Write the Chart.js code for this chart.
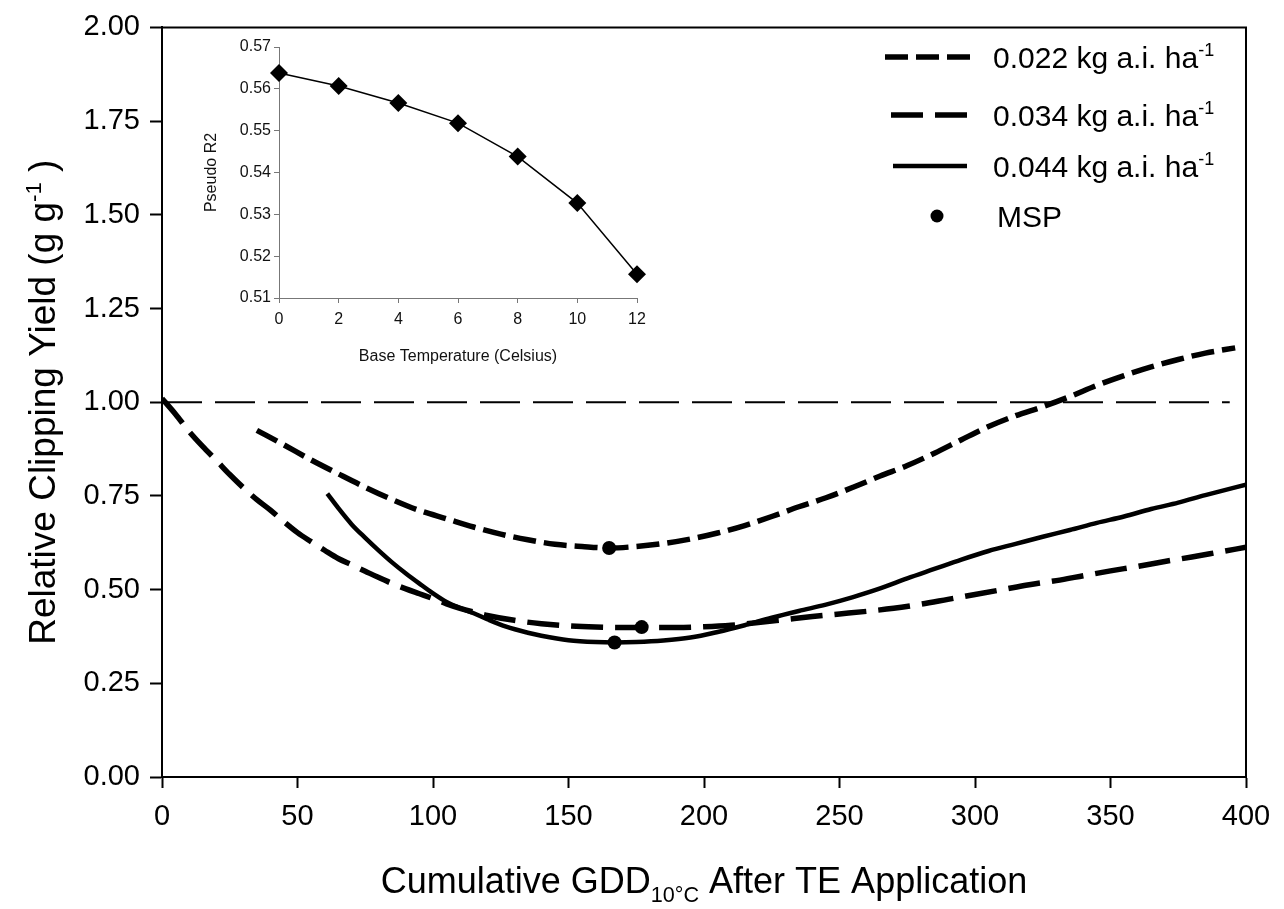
<!DOCTYPE html>
<html>
<head>
<meta charset="utf-8">
<title>Relative clipping yield vs cumulative GDD</title>
<script src="https://cdn.jsdelivr.net/npm/chart.js@4.4.1/dist/chart.umd.min.js"></script>
<style>
  html, body { margin: 0; padding: 0; background: #fff; }
  #wrap { position: relative; width: 1284px; height: 909px; }
  #main { position: absolute; left: 0; top: 0; }
  #inset { position: absolute; left: 190px; top: 30px; }
</style>
</head>
<body>
<div id="wrap">
  <canvas id="main" width="1284" height="909"></canvas>
  <canvas id="inset" width="470" height="340"></canvas>
</div>
<script>
// --- main panel: relative clipping yield after TE application ---
const gdd022 = [35, 45, 55, 65, 75, 85, 95, 105, 115, 125, 135, 145, 155, 165, 175, 185, 195, 205, 215, 225,
                235, 245, 255, 265, 275, 285, 295, 305, 315, 325, 335, 345, 355, 365, 375, 385, 396];
const yield022 = [0.925, 0.886, 0.846, 0.809, 0.773, 0.740, 0.711, 0.689, 0.667, 0.648, 0.633, 0.621, 0.615,
                  0.611, 0.615, 0.623, 0.635, 0.651, 0.671, 0.695, 0.721, 0.745, 0.773, 0.803, 0.831, 0.864,
                  0.900, 0.935, 0.964, 0.988, 1.015, 1.045, 1.071, 1.094, 1.114, 1.131, 1.145];

const gdd034 = [0, 5, 10, 15, 20, 25, 30, 35, 40, 45, 50, 55, 60, 65, 70, 75, 80, 85, 90, 95, 100, 105, 110,
                115, 120, 130, 140, 150, 160, 170, 180, 190, 200, 210, 220, 230, 240, 250, 260, 270, 280, 290,
                300, 310, 320, 330, 340, 350, 360, 370, 380, 390, 400];
const yield034 = [1.010, 0.968, 0.922, 0.882, 0.845, 0.807, 0.772, 0.740, 0.712, 0.681, 0.652, 0.628, 0.605,
                  0.583, 0.566, 0.549, 0.532, 0.516, 0.502, 0.489, 0.476, 0.462, 0.450, 0.440, 0.431, 0.418,
                  0.409, 0.403, 0.400, 0.399, 0.399, 0.399, 0.401, 0.405, 0.412, 0.420, 0.428, 0.435, 0.442,
                  0.450, 0.461, 0.474, 0.487, 0.500, 0.513, 0.524, 0.537, 0.550, 0.562, 0.575, 0.587, 0.600, 0.613];

const gdd044 = [61, 65, 70, 75, 80, 85, 90, 95, 100, 105, 110, 115, 120, 127, 135, 140, 150, 160, 167, 175,
                185, 195, 205, 215, 225, 235, 245, 255, 265, 275, 285, 295, 305, 315, 325, 335, 345, 355, 365,
                375, 385, 400];
const yield044 = [0.756, 0.718, 0.674, 0.638, 0.604, 0.572, 0.543, 0.516, 0.490, 0.467, 0.451, 0.437, 0.421,
                  0.401, 0.385, 0.377, 0.365, 0.360, 0.359, 0.360, 0.364, 0.372, 0.387, 0.405, 0.425, 0.443,
                  0.460, 0.480, 0.503, 0.530, 0.555, 0.580, 0.603, 0.622, 0.641, 0.659, 0.678, 0.695, 0.715,
                  0.732, 0.752, 0.780];

// minimum suppression points (0.022, 0.034, 0.044)
const mspGdd = [165, 177, 167];
const mspYield = [0.611, 0.400, 0.359];

// untreated reference at 1.0
const refGdd = [0, 394];
const refYield = [1, 1];

const doseLabels = ['0.022', '0.034', '0.044'];
const gddTicks = [0, 50, 100, 150, 200, 250, 300, 350, 400];
const yieldTicks = [0, 0.25, 0.5, 0.75, 1, 1.25, 1.5, 1.75, 2];

// --- inset: model fit vs base temperature ---
const baseTemp = [0, 2, 4, 6, 8, 10, 12];
const pseudoR2 = [0.5638, 0.5607, 0.5566, 0.5518, 0.5438, 0.5327, 0.5157];
const tempTicks = [0, 2, 4, 6, 8, 10, 12];
const r2Ticks = [0.51, 0.52, 0.53, 0.54, 0.55, 0.56, 0.57];

const FONT = "'Liberation Sans', Arial, sans-serif";
Chart.defaults.font.family = FONT;
Chart.defaults.color = '#000';

const pts = (xs, ys) => xs.map((x, i) => ({ x, y: ys[i] }));
const fontOf = s => s + 'px ' + FONT;

// text runs with super/subscripts: [{t, s:'sup'|'sub'}]
function richWidth(ctx, parts, size) {
  let w = 0;
  parts.forEach(p => {
    ctx.font = fontOf(p.s ? size * 0.6 : size);
    w += ctx.measureText(p.t).width;
  });
  return w;
}
function drawRich(ctx, parts, x, y, size) {
  parts.forEach(p => {
    ctx.font = fontOf(p.s ? size * 0.6 : size);
    const dy = p.s === 'sup' ? -size * 0.39 : p.s === 'sub' ? size * 0.26 : 0;
    ctx.fillText(p.t, x, y + dy);
    x += ctx.measureText(p.t).width;
  });
}

const frameAndText = {
  id: 'frameAndText',
  afterDraw(chart) {
    const ctx = chart.ctx;
    const a = chart.chartArea;
    ctx.save();
    // top and right of the box
    ctx.strokeStyle = '#000';
    ctx.lineWidth = 2;
    ctx.beginPath();
    ctx.moveTo(a.left, a.top);
    ctx.lineTo(a.right, a.top);
    ctx.lineTo(a.right, a.bottom);
    ctx.stroke();

    ctx.fillStyle = '#000';
    ctx.textBaseline = 'alphabetic';

    // x title
    const xt = [{ t: 'Cumulative GDD' }, { t: '10°C', s: 'sub' }, { t: ' After TE Application' }];
    const xw = richWidth(ctx, xt, 36);
    drawRich(ctx, xt, (a.left + a.right) / 2 - xw / 2, 893, 36);

    // y title
    const yt = [{ t: 'Relative Clipping Yield (g g' }, { t: '-1', s: 'sup' }, { t: ' )' }];
    const yw = richWidth(ctx, yt, 37);
    ctx.save();
    ctx.translate(42, (a.top + a.bottom) / 2);
    ctx.rotate(-Math.PI / 2);
    drawRich(ctx, yt, -yw / 2, 13, 37);
    ctx.restore();

    // legend
    const rowY = [57, 115, 166, 216];
    const lineStart = [885, 891, 893];
    const lineEnd = [970, 967, 967];
    const textX = 993;
    doseLabels.forEach((d, i) => {
      const ds = chart.data.datasets[i + 1];
      ctx.save();
      ctx.strokeStyle = ds.borderColor;
      ctx.lineWidth = ds.borderWidth;
      ctx.setLineDash(ds.borderDash || []);
      ctx.beginPath();
      ctx.moveTo(lineStart[i], rowY[i]);
      ctx.lineTo(lineEnd[i], rowY[i]);
      ctx.stroke();
      ctx.restore();
      drawRich(ctx, [{ t: d + ' kg a.i. ha' }, { t: '-1', s: 'sup' }], textX, rowY[i] + 11, 30);
    });
    ctx.beginPath();
    ctx.arc(937, rowY[3], 6.5, 0, Math.PI * 2);
    ctx.fill();
    drawRich(ctx, [{ t: 'MSP' }], textX + 4, rowY[3] + 11, 30);
    ctx.restore();
  }
};

new Chart(document.getElementById('main'), {
  type: 'line',
  data: {
    datasets: [
      {
        type: 'scatter', label: 'MSP', data: pts(mspGdd, mspYield),
        pointRadius: 7, pointBackgroundColor: '#000', pointBorderWidth: 0, showLine: false
      },
      {
        label: doseLabels[0], data: pts(gdd022, yield022), borderColor: '#000', borderWidth: 5.5,
        borderDash: [23, 8], pointRadius: 0, cubicInterpolationMode: 'monotone'
      },
      {
        label: doseLabels[1], data: pts(gdd034, yield034), borderColor: '#000', borderWidth: 5.5,
        borderDash: [32, 12], pointRadius: 0, cubicInterpolationMode: 'monotone'
      },
      {
        label: doseLabels[2], data: pts(gdd044, yield044), borderColor: '#000', borderWidth: 4.5,
        pointRadius: 0, cubicInterpolationMode: 'monotone'
      },
      {
        label: 'ref', data: pts(refGdd, refYield), borderColor: '#000', borderWidth: 2,
        borderDash: [40, 13], pointRadius: 0
      }
    ]
  },
  options: {
    responsive: false,
    animation: false,
    layout: { padding: { top: 20, right: 38, left: 0, bottom: 0 } },
    plugins: { legend: { display: false }, tooltip: { enabled: false } },
    scales: {
      x: {
        type: 'linear', min: 0, max: 400,
        afterBuildTicks: s => { s.ticks = gddTicks.map(v => ({ value: v })); },
        afterFit: s => { s.height = 132; },
        ticks: { font: { size: 29 }, color: '#000', padding: 12, maxRotation: 0 },
        grid: { drawOnChartArea: false, tickLength: 11, tickWidth: 2, tickColor: '#000' },
        border: { color: '#000', width: 2 }
      },
      y: {
        type: 'linear', min: 0, max: 2,
        afterBuildTicks: s => { s.ticks = yieldTicks.map(v => ({ value: v })); },
        afterFit: s => { s.width = 162; },
        ticks: { font: { size: 29 }, color: '#000', padding: 10, callback: v => v.toFixed(2) },
        grid: { drawOnChartArea: false, tickLength: 12, tickWidth: 2, tickColor: '#000' },
        border: { color: '#000', width: 2 }
      }
    }
  },
  plugins: [frameAndText]
});

new Chart(document.getElementById('inset'), {
  type: 'line',
  data: {
    datasets: [{
      data: pts(baseTemp, pseudoR2), borderColor: '#000', borderWidth: 1.5,
      pointStyle: 'rectRot', pointRadius: 9, pointBackgroundColor: '#000', pointBorderWidth: 0,
      tension: 0, clip: false
    }]
  },
  options: {
    responsive: false,
    animation: false,
    layout: { padding: { top: 17, right: 23 } },
    plugins: { legend: { display: false }, tooltip: { enabled: false } },
    scales: {
      x: {
        type: 'linear', min: 0, max: 12,
        afterBuildTicks: s => { s.ticks = tempTicks.map(v => ({ value: v })); },
        afterFit: s => { s.height = 72; },
        ticks: { font: { size: 16 }, color: '#111', padding: 7, maxRotation: 0 },
        grid: { drawOnChartArea: false, tickLength: 5, tickColor: '#777' },
        border: { color: '#777', width: 1 },
        title: { display: true, text: 'Base Temperature (Celsius)', font: { size: 16 }, color: '#111', padding: { top: 4 } }
      },
      y: {
        type: 'linear', min: 0.51, max: 0.57,
        afterBuildTicks: s => { s.ticks = r2Ticks.map(v => ({ value: v })); },
        afterFit: s => { s.width = 89; },
        ticks: { font: { size: 16 }, color: '#111', padding: 3, callback: v => v.toFixed(2) },
        grid: { drawOnChartArea: false, tickLength: 5, tickColor: '#777' },
        border: { color: '#777', width: 1 },
        title: { display: true, text: 'Pseudo R2', font: { size: 16 }, color: '#111', padding: { top: 12, bottom: 0 } }
      }
    }
  }
});
</script>
</body>
</html>
